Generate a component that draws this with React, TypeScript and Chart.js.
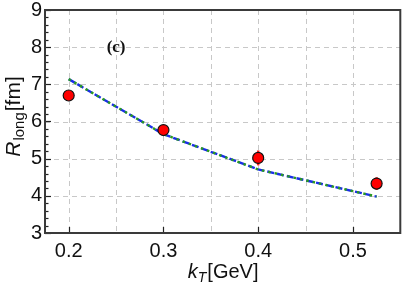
import React, { useEffect, useRef } from "react";
import { Chart, registerables } from "chart.js";

Chart.register(...registerables);

const kT = [0.2, 0.3, 0.4, 0.525];
const rLongData = [6.7, 5.77, 5.02, 4.33];
const rLongErr = [0.1, 0.1, 0.2, 0.17];
const modelX = [0.2, 0.3, 0.4, 0.525];
const modelY = [7.14, 5.66, 4.71, 3.98];
const xTickValues = [0.2, 0.25, 0.3, 0.35, 0.4, 0.45, 0.5];
const xLabelValues = [0.2, 0.3, 0.4, 0.5];
const yTickValues = [3, 4, 5, 6, 7, 8, 9];
const panelLabel = "(c)";

const FONT = "'Liberation Sans', Arial, Helvetica, sans-serif";

const decorPlugin = {
  id: "decor",
  beforeDatasetsDraw(chart: any) {
    const { ctx, scales, chartArea } = chart;
    const xs = scales.x;
    const ys = scales.y;
    const { left, right, top, bottom } = chartArea;
    ctx.save();
    // dashed grid
    ctx.strokeStyle = "#c8c8c8";
    ctx.lineWidth = 1;
    ctx.setLineDash([5, 4]);
    for (const v of xTickValues) {
      const px = Math.round(xs.getPixelForValue(v)) + 0.5;
      ctx.beginPath();
      ctx.moveTo(px, top);
      ctx.lineTo(px, bottom);
      ctx.stroke();
    }
    for (const v of yTickValues) {
      const py = Math.round(ys.getPixelForValue(v)) + 0.5;
      ctx.beginPath();
      ctx.moveTo(left, py);
      ctx.lineTo(right, py);
      ctx.stroke();
    }
    ctx.setLineDash([]);
    // error bars
    ctx.strokeStyle = "#ff2020";
    ctx.lineWidth = 2.5;
    for (let i = 0; i < kT.length; i++) {
      const px = xs.getPixelForValue(kT[i]);
      ctx.beginPath();
      ctx.moveTo(px, ys.getPixelForValue(rLongData[i] - rLongErr[i]));
      ctx.lineTo(px, ys.getPixelForValue(rLongData[i] + rLongErr[i]));
      ctx.stroke();
    }
    ctx.restore();
  },
  afterDatasetsDraw(chart: any) {
    const { ctx, chartArea, scales } = chart;
    const xs = scales.x;
    const ys = scales.y;
    const { left, right, top, bottom } = chartArea;
    ctx.save();
    // inward ticks
    ctx.strokeStyle = "#222";
    ctx.lineWidth = 1.2;
    for (let v = 3; v <= 9.001; v += 0.2) {
      const py = Math.round(ys.getPixelForValue(v)) + 0.5;
      const major = Math.abs(v - Math.round(v)) < 0.01;
      ctx.beginPath();
      ctx.moveTo(left, py);
      ctx.lineTo(left + (major ? 6 : 3.5), py);
      ctx.stroke();
    }
    for (const v of xLabelValues) {
      const px = Math.round(xs.getPixelForValue(v)) + 0.5;
      ctx.beginPath();
      ctx.moveTo(px, bottom);
      ctx.lineTo(px, bottom - 6);
      ctx.stroke();
    }
    // frame
    ctx.strokeStyle = "#3a3a3a";
    ctx.lineWidth = 2;
    ctx.strokeRect(left, top, right - left, bottom - top);

    // panel label
    ctx.fillStyle = "#111";
    ctx.font = "bold 17px 'Liberation Serif', 'Times New Roman', serif";
    ctx.textAlign = "center";
    ctx.textBaseline = "middle";
    ctx.fillText(panelLabel, xs.getPixelForValue(0.25), ys.getPixelForValue(8));

    // x title: k_T[GeV]
    ctx.textAlign = "left";
    ctx.textBaseline = "alphabetic";
    const cx = (left + right) / 2;
    const baseY = 278;
    ctx.font = `italic 20px ${FONT}`;
    const wk = ctx.measureText("k").width;
    ctx.font = `italic 14px ${FONT}`;
    const wT = ctx.measureText("T").width;
    ctx.font = `20px ${FONT}`;
    const wRest = ctx.measureText("[GeV]").width;
    let x0 = cx - (wk + wT + wRest) / 2;
    ctx.font = `italic 20px ${FONT}`;
    ctx.fillText("k", x0, baseY);
    ctx.font = `italic 14px ${FONT}`;
    ctx.fillText("T", x0 + wk, baseY + 4);
    ctx.font = `20px ${FONT}`;
    ctx.fillText("[GeV]", x0 + wk + wT + 1, baseY);

    // y title: R_long[fm]
    ctx.save();
    const cy = (top + bottom) / 2 - 4;
    ctx.translate(20, cy);
    ctx.rotate(-Math.PI / 2);
    ctx.font = `italic 21px ${FONT}`;
    const wR = ctx.measureText("R").width;
    ctx.font = `15px ${FONT}`;
    const wl = ctx.measureText("long").width;
    ctx.font = `21px ${FONT}`;
    const wfm = ctx.measureText("[fm]").width;
    const y0 = -(wR + wl + wfm) / 2;
    ctx.font = `italic 21px ${FONT}`;
    ctx.fillText("R", y0, 0);
    ctx.font = `15px ${FONT}`;
    ctx.fillText("long", y0 + wR + 1, 4);
    ctx.font = `21px ${FONT}`;
    ctx.fillText("[fm]", y0 + wR + wl + 2, 0);
    ctx.restore();

    ctx.restore();
  },
};

export default function App() {
  const ref = useRef<HTMLCanvasElement | null>(null);
  useEffect(() => {
    document.body.style.margin = "0";
    const canvas = ref.current;
    if (!canvas) return;
    const pts = (xa: number[], ya: number[]) => xa.map((x, i) => ({ x, y: ya[i] }));
    const chart = new Chart(canvas, {
      type: "scatter",
      data: {
        datasets: [
          {
            label: "data",
            data: pts(kT, rLongData),
            backgroundColor: "#ff0000",
            borderColor: "#111",
            borderWidth: 1.2,
            pointRadius: 5.5,
            showLine: false,
            order: 0,
          },
          {
            label: "model green",
            data: pts(modelX, modelY),
            borderColor: "#2a9a20",
            borderWidth: 2.4,
            borderDash: [2.5, 4],
            pointRadius: 0,
            showLine: true,
            order: 1,
          },
          {
            label: "model blue",
            data: pts(modelX, modelY),
            borderColor: "#1a2ee8",
            borderWidth: 2.4,
            borderDash: [7, 3],
            pointRadius: 0,
            showLine: true,
            order: 2,
          },
        ] as any,
      },
      options: {
        animation: false,
        responsive: false,
        layout: { padding: { top: 10, right: -4, left: 0, bottom: 0 } },
        plugins: { legend: { display: false }, tooltip: { enabled: false } },
        scales: {
          x: {
            type: "linear",
            min: 0.175,
            max: 0.55,
            afterBuildTicks: (s: any) => {
              s.ticks = xTickValues.map((v) => ({ value: v }));
            },
            afterFit: (s: any) => {
              s.height = 51;
              s.paddingLeft = 0;
              s.paddingRight = 0;
            },
            grid: { display: false, drawTicks: false },
            border: { display: false },
            ticks: {
              padding: 6,
              color: "#111",
              font: { family: FONT, size: 20 },
              maxRotation: 0,
              autoSkip: false,
              callback: (v: any) => {
                const n = Number(v);
                return xLabelValues.some((t) => Math.abs(t - n) < 1e-6) ? n.toFixed(1) : "";
              },
            },
          },
          y: {
            type: "linear",
            min: 3,
            max: 9,
            afterBuildTicks: (s: any) => {
              s.ticks = yTickValues.map((v) => ({ value: v }));
            },
            afterFit: (s: any) => {
              s.width = 45;
              s.paddingTop = 0;
              s.paddingBottom = 0;
            },
            grid: { display: false, drawTicks: false },
            border: { display: false },
            ticks: {
              padding: 3,
              color: "#111",
              font: { family: FONT, size: 20 },
              autoSkip: false,
              callback: (v: any) => String(v),
            },
          },
        },
      } as any,
      plugins: [decorPlugin],
    });
    return () => chart.destroy();
  }, []);
  return <canvas ref={ref} width={407} height={284} style={{ display: "block" }} />;
}
